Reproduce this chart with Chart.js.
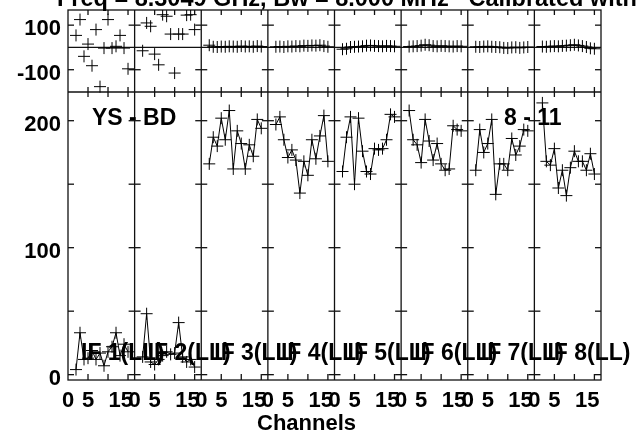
<!DOCTYPE html>
<html>
<head>
<meta charset="utf-8">
<script src="https://cdn.jsdelivr.net/npm/chart.js@4.4.0/dist/chart.umd.min.js"></script>
<style>
  html, body { margin: 0; padding: 0; background: #fff; }
  canvas { display: block; }
</style>
</head>
<body>
<canvas id="possm" width="641" height="434"></canvas>
<script>
// channels plotted in every IF (edge channels flagged)
const channels = [2, 3, 4, 5, 6, 7, 8, 9, 10, 11, 12, 13, 14, 15];
const ifLabels = ['IF 1(LL)', 'IF 2(LL)', 'IF 3(LL)', 'IF 4(LL)', 'IF 5(LL)', 'IF 6(LL)', 'IF 7(LL)', 'IF 8(LL)'];

// amplitude per IF
const amp1 = [4, 33, 12, 13, 19, 12, 17, 7, 18, 22, 33, 15, 24, 18];
const amp2 = [14, 48, 10, 8, 12, 15, 18, 16, 17, 41, 14, 10, 12, 6];
const amp3 = [166, 187, 180, 202, 185, 208, 162, 192, 182, 162, 181, 172, 201, 194];
const amp4 = [197, 203, 185, 171, 177, 169, 143, 168, 157, 185, 170, 188, 204, 168];
const amp5 = [160, 187, 203, 150, 202, 176, 160, 158, 178, 177, 178, 185, 205, 203];
const amp6 = [208, 185, 181, 167, 201, 184, 169, 182, 166, 161, 162, 196, 193, 192];
const amp7 = [161, 193, 175, 182, 201, 142, 166, 166, 161, 186, 173, 180, 193, 192];
const amp8 = [214, 168, 165, 178, 147, 161, 141, 163, 176, 168, 168, 161, 174, 158];

// phase (degrees) per IF
const phs1 = [54, 125, -40, 15, -82, 80, -176, -3, 125, -3, 5, 54, -3, -96];
const phs2 = [-15, 110, 95, -30, -78, 147, 140, 60, -115, 60, 60, 145, 147, 80];
const phs3 = [10, 3, 2, 4, 3, 5, 4, 3, 6, 4, 5, 3, 6, 4];
const phs4 = [3, 4, 2, 5, 4, 6, 5, 8, 7, 9, 8, 10, 6, 3];
const phs5 = [-8, -6, 2, 3, 4, 5, 8, 9, 7, 6, 5, 7, 6, 5];
const phs6 = [4, 5, 6, 8, 12, 10, 6, 5, 7, 6, 5, 4, 6, 5];
const phs7 = [3, 2, 4, 5, 3, 2, 1, -2, -3, 0, 1, -2, 0, 2];
const phs8 = [4, 3, 5, 6, 5, 7, 8, 10, 12, 9, 6, 2, -4, -6];

const ampSeries = [amp1, amp2, amp3, amp4, amp5, amp6, amp7, amp8];
const phsSeries = [phs1, phs2, phs3, phs4, phs5, phs6, phs7, phs8];

// axis ticks
const ampTickLabels = [0, 100, 200];
const ampTickMarks = [0, 50, 100, 150, 200];
const phsTickLabels = [100, -100];
const chanTickMarks = [5, 10, 15];
const chanTickLabels = ['0', '5', '15'];
const chanTickValues = [0, 5, 13.2];

// panel geometry in data units
const PANEL = 16.65;
const NIF = 8;
const AMP_LO = -4.2, AMP_HI = 222.6;
const PH_LO = -200, PH_HI = 168;
const SPLIT = 82 / 370;   // share of plot height taken by the phase strip

// both y scales span the whole plot; their limits put each strip in place
const ampSpan = (AMP_HI - AMP_LO) / (1 - SPLIT);
const phSpan = (PH_HI - PH_LO) / SPLIT;

const FONT = "bold 22px 'Liberation Sans', Arial, sans-serif";
const LABEL_FONT = "bold 23px 'Liberation Sans', Arial, sans-serif";
const TITLE_FONT = "bold 23.5px 'Liberation Sans', Arial, sans-serif";

const datasets = [];
ampSeries.forEach((vals, i) => {
  datasets.push({
    data: channels.map((c, k) => ({ x: i * PANEL + c, y: vals[k] })),
    yAxisID: 'yAmp',
    showLine: true,
    borderColor: '#000',
    borderWidth: 1,
    pointStyle: 'cross',
    pointRadius: 6,
    pointBorderWidth: 1,
    pointBorderColor: '#000',
    tension: 0
  });
});
phsSeries.forEach((vals, i) => {
  datasets.push({
    data: channels.map((c, k) => ({ x: i * PANEL + c, y: vals[k] })),
    yAxisID: 'yPhase',
    showLine: false,
    pointStyle: 'cross',
    pointRadius: 6,
    pointBorderWidth: 1,
    pointBorderColor: '#000'
  });
});

function seg(ctx, x1, y1, x2, y2) {
  ctx.beginPath();
  ctx.moveTo(x1, y1);
  ctx.lineTo(x2, y2);
  ctx.stroke();
}

const panelFrame = {
  id: 'panelFrame',
  beforeDatasetsDraw(chart) {
    const { ctx, chartArea: a, scales } = chart;
    const x = scales.x, yAmp = scales.yAmp, yPh = scales.yPhase;
    const yTop = yPh.getPixelForValue(PH_HI);
    const ySplit = yPh.getPixelForValue(PH_LO);
    const yBot = yAmp.getPixelForValue(AMP_LO);
    ctx.save();
    ctx.strokeStyle = '#111';
    ctx.lineWidth = 1.3;
    ctx.strokeRect(a.left, yTop, a.right - a.left, yBot - yTop);
    seg(ctx, a.left, ySplit, a.right, ySplit);
    seg(ctx, a.left, yPh.getPixelForValue(0), a.right, yPh.getPixelForValue(0));

    for (let i = 0; i <= NIF; i++) {
      const xp = x.getPixelForValue(i * PANEL);
      if (i > 0 && i < NIF) seg(ctx, xp, yTop, xp, yBot);
      const yMarks = phsTickLabels.map(v => yPh.getPixelForValue(v))
        .concat(ampTickMarks.map(v => yAmp.getPixelForValue(v)));
      yMarks.forEach(yp => {
        if (i < NIF) seg(ctx, xp, yp, xp + 6, yp);
        if (i > 0) seg(ctx, xp - 6, yp, xp, yp);
      });
    }
    for (let i = 0; i < NIF; i++) {
      chanTickMarks.forEach(c => {
        const xp = x.getPixelForValue(i * PANEL + c);
        seg(ctx, xp, yTop, xp, yTop + 5);
        seg(ctx, xp, ySplit - 5, xp, ySplit + 5);
        seg(ctx, xp, yBot - 6, xp, yBot);
      });
    }
    ctx.restore();
  },
  afterDraw(chart) {
    const { ctx, scales } = chart;
    const x = scales.x, yAmp = scales.yAmp, yPh = scales.yPhase;
    ctx.save();
    ctx.fillStyle = '#000';
    ctx.font = FONT;

    // y labels
    ctx.textAlign = 'right';
    ctx.textBaseline = 'alphabetic';
    phsTickLabels.forEach(v => ctx.fillText(String(v), 61, yPh.getPixelForValue(v) + 10));
    ampTickLabels.forEach(v => ctx.fillText(String(v), 61, yAmp.getPixelForValue(v) + 10));

    // channel labels under every panel
    ctx.textAlign = 'center';
    for (let i = 0; i < NIF; i++) {
      chanTickValues.forEach((c, k) => {
        ctx.fillText(chanTickLabels[k], x.getPixelForValue(i * PANEL + c), 406.5);
      });
    }
    ctx.textAlign = 'left';
    ctx.fillText('Channels', 257, 430);

    // heading, partly above the canvas edge
    ctx.font = TITLE_FONT;
    ctx.fillText('Freq = 8.3049 GHz, Bw = 8.000 MHz   Calibrated with CL 1', 57, 6);

    // baseline and IF names
    ctx.font = LABEL_FONT;
    ctx.fillText('YS - BD', 92, 125);
    ctx.fillText('8 - 11', 504, 125);
    ifLabels.forEach((t, i) => {
      ctx.fillText(t, x.getPixelForValue(i * PANEL) + 13, 360);
    });
    ctx.restore();
  }
};

new Chart(document.getElementById('possm'), {
  type: 'scatter',
  data: { datasets },
  options: {
    responsive: false,
    animation: false,
    devicePixelRatio: 1,
    layout: { padding: { left: 68, right: 40, top: 10, bottom: 54 } },
    plugins: { legend: { display: false }, tooltip: { enabled: false } },
    scales: {
      x: { type: 'linear', display: false, min: 0, max: NIF * PANEL },
      yAmp: { type: 'linear', display: false, min: AMP_LO, max: AMP_LO + ampSpan },
      yPhase: { type: 'linear', display: false, min: PH_HI - phSpan, max: PH_HI }
    }
  },
  plugins: [panelFrame]
});
</script>
</body>
</html>
